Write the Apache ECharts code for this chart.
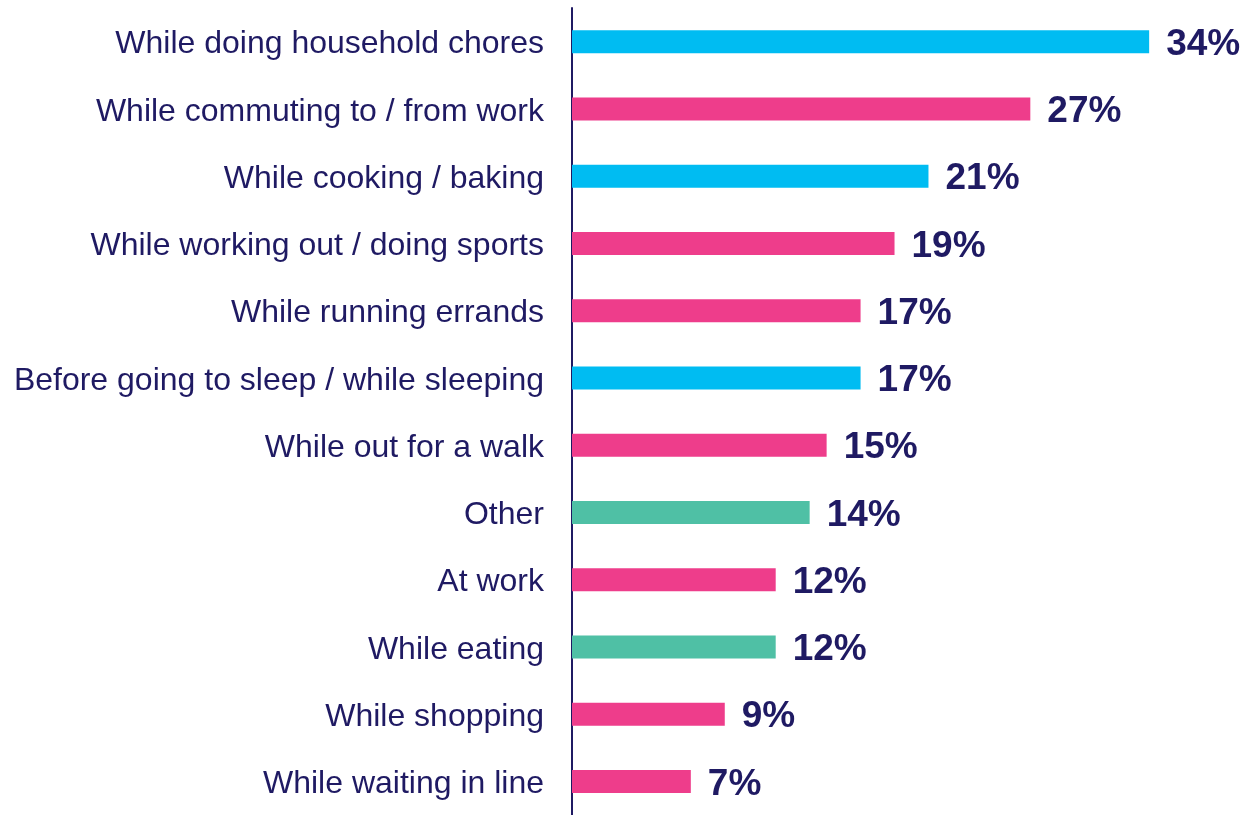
<!DOCTYPE html>
<html>
<head>
<meta charset="utf-8">
<script src="https://cdn.jsdelivr.net/npm/echarts@6/dist/echarts.min.js"></script>
<style>
  html, body { margin: 0; padding: 0; background: #ffffff; }
  #chart { width: 1257px; height: 815px; }
</style>
</head>
<body>
<div id="chart"></div>
<script>
// Situations where people listen, share of respondents (%)
const categories = [
  'While doing household chores',
  'While commuting to / from work',
  'While cooking / baking',
  'While working out / doing sports',
  'While running errands',
  'Before going to sleep / while sleeping',
  'While out for a walk',
  'Other',
  'At work',
  'While eating',
  'While shopping',
  'While waiting in line'
];
const values = [34, 27, 21, 19, 17, 17, 15, 14, 12, 12, 9, 7];
// colour group of each bar: 0 = home, 1 = out and about, 2 = other
const groups = [0, 1, 0, 1, 1, 0, 1, 2, 1, 2, 1, 1];

const palette = ['#00BCF2', '#EE3D8B', '#4FC0A5'];
const ink = '#1F1A63';
const font = '"Liberation Sans", Arial, sans-serif';

const chart = echarts.init(document.getElementById('chart'), null, { renderer: 'canvas' });
chart.setOption({
  animation: false,
  grid: { left: 572, right: 6, top: 8, bottom: -3, containLabel: false },
  xAxis: {
    type: 'value', min: 0, max: 40,
    show: false
  },
  yAxis: {
    type: 'category',
    inverse: true,
    data: categories,
    axisLine: { show: true, lineStyle: { color: ink, width: 2 } },
    axisTick: { show: false },
    axisLabel: {
      margin: 28,
      verticalAlign: 'middle',
      formatter: (name) => '{t|' + name + '}',
      rich: {
        t: {
          color: ink, fontSize: 32, fontFamily: font,
          padding: [6, 0, 0, 0]
        }
      }
    },
    splitLine: { show: false }
  },
  series: [{
    type: 'bar',
    barWidth: 23,
    data: values.map((v, i) => ({ value: v, itemStyle: { color: palette[groups[i]] } })),
    label: {
      show: true,
      position: 'right',
      distance: 17,
      offset: [0, 3],
      formatter: '{c}%',
      color: ink,
      fontSize: 37,
      fontWeight: 'bold',
      fontFamily: font
    }
  }]
});
</script>
</body>
</html>
